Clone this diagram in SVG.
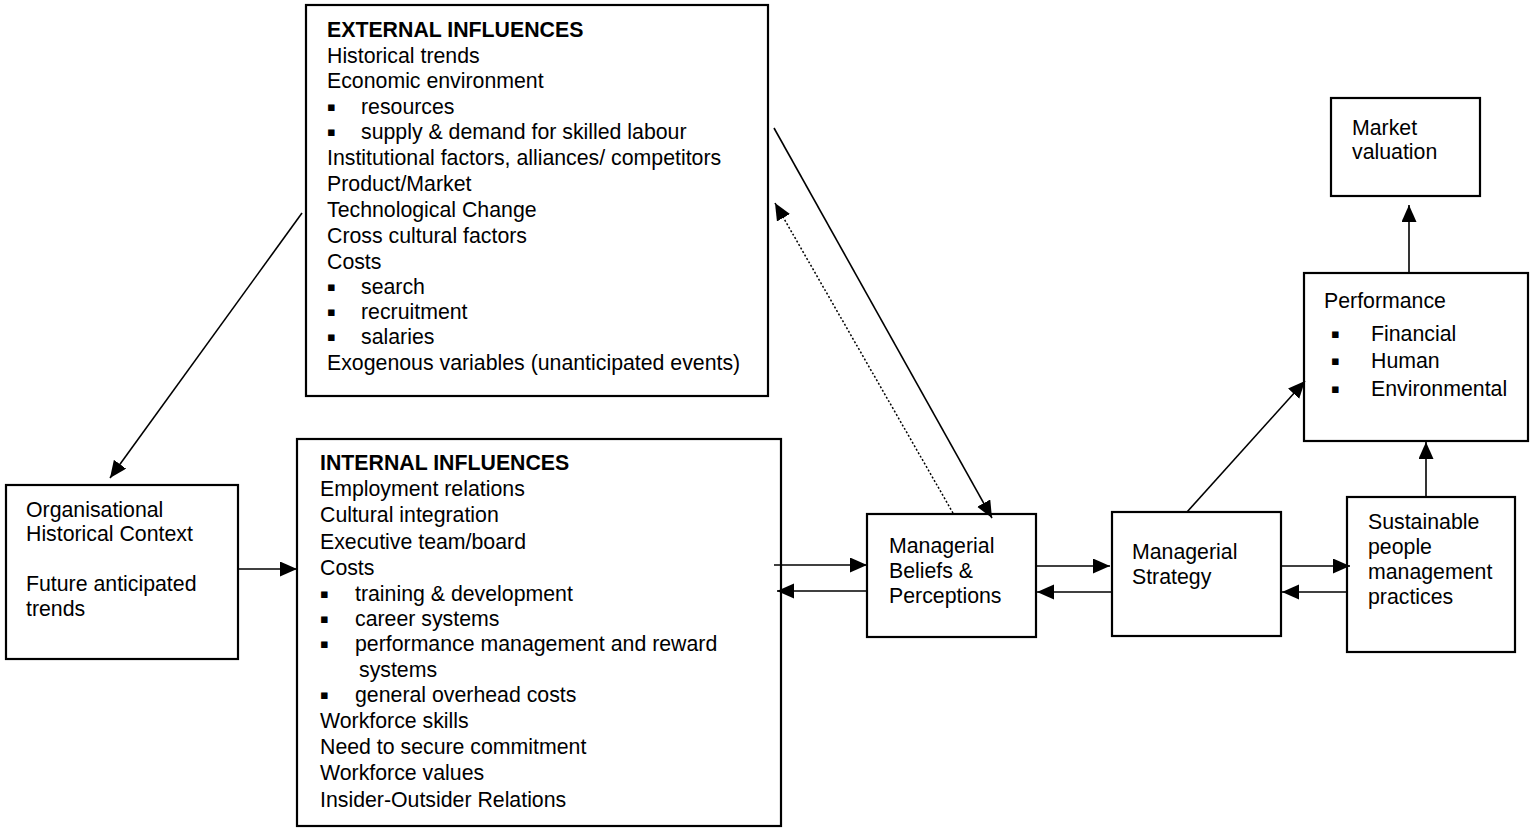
<svg xmlns="http://www.w3.org/2000/svg" width="1530" height="830" viewBox="0 0 1530 830">
<style>
.box{fill:#fff;stroke:#000;stroke-width:2.2}
.t{font-family:"Liberation Sans",Arial,sans-serif;font-size:21.3px;fill:#000}
.b{font-weight:bold}
.bul{font-family:"DejaVu Sans",sans-serif;font-size:13px;fill:#000}
.c{fill:none;stroke:#000;stroke-width:1.6}
.d{fill:none;stroke:#000;stroke-width:1.5;stroke-dasharray:2 2}
</style>
<defs>
<marker id="ah" markerUnits="userSpaceOnUse" markerWidth="18" markerHeight="16" refX="17" refY="7.5" orient="auto">
<path d="M0,0 L17,7.5 L0,15 z" fill="#000"/>
</marker>
</defs>
<rect width="1530" height="830" fill="#fff"/>

<g id="external">
<rect class="box" x="306" y="5" width="462" height="391"/>
<text class="t b" x="327" y="37">EXTERNAL INFLUENCES</text>
<text class="t" x="327" y="63">Historical trends</text>
<text class="t" x="327" y="88">Economic environment</text>
<text class="bul" x="327" y="111">▪</text><text class="t" x="361" y="114">resources</text>
<text class="bul" x="327" y="136">▪</text><text class="t" x="361" y="139">supply &amp; demand for skilled labour</text>
<text class="t" x="327" y="165">Institutional factors, alliances/ competitors</text>
<text class="t" x="327" y="191">Product/Market</text>
<text class="t" x="327" y="217">Technological Change</text>
<text class="t" x="327" y="243">Cross cultural factors</text>
<text class="t" x="327" y="269">Costs</text>
<text class="bul" x="327" y="291">▪</text><text class="t" x="361" y="294">search</text>
<text class="bul" x="327" y="316">▪</text><text class="t" x="361" y="319">recruitment</text>
<text class="bul" x="327" y="341">▪</text><text class="t" x="361" y="344">salaries</text>
<text class="t" x="327" y="370">Exogenous variables (unanticipated events)</text>
</g>

<g id="internal">
<rect class="box" x="297" y="439" width="484" height="387"/>
<text class="t b" x="320" y="470">INTERNAL INFLUENCES</text>
<text class="t" x="320" y="496">Employment relations</text>
<text class="t" x="320" y="522">Cultural integration</text>
<text class="t" x="320" y="549">Executive team/board</text>
<text class="t" x="320" y="575">Costs</text>
<text class="bul" x="320" y="598">▪</text><text class="t" x="355" y="601">training &amp; development</text>
<text class="bul" x="320" y="623">▪</text><text class="t" x="355" y="626">career systems</text>
<text class="bul" x="320" y="648">▪</text><text class="t" x="355" y="651">performance management and reward</text>
<text class="t" x="359" y="677">systems</text>
<text class="bul" x="320" y="699">▪</text><text class="t" x="355" y="702">general overhead costs</text>
<text class="t" x="320" y="728">Workforce skills</text>
<text class="t" x="320" y="754">Need to secure commitment</text>
<text class="t" x="320" y="780">Workforce values</text>
<text class="t" x="320" y="807">Insider-Outsider Relations</text>
</g>

<g id="org">
<rect class="box" x="6" y="485" width="232" height="174"/>
<text class="t" x="26" y="517">Organisational</text>
<text class="t" x="26" y="541">Historical Context</text>
<text class="t" x="26" y="591">Future anticipated</text>
<text class="t" x="26" y="616">trends</text>
</g>

<g id="beliefs">
<rect class="box" x="867" y="514" width="169" height="123"/>
<text class="t" x="889" y="553">Managerial</text>
<text class="t" x="889" y="578">Beliefs &amp;</text>
<text class="t" x="889" y="603">Perceptions</text>
</g>

<g id="strategy">
<rect class="box" x="1112" y="512" width="169" height="124"/>
<text class="t" x="1132" y="559">Managerial</text>
<text class="t" x="1132" y="584">Strategy</text>
</g>

<g id="sustainable">
<rect class="box" x="1347" y="497" width="168" height="155"/>
<text class="t" x="1368" y="529">Sustainable</text>
<text class="t" x="1368" y="554">people</text>
<text class="t" x="1368" y="579">management</text>
<text class="t" x="1368" y="604">practices</text>
</g>

<g id="performance">
<rect class="box" x="1304" y="273" width="224" height="168"/>
<text class="t" x="1324" y="308">Performance</text>
<text class="bul" x="1331" y="338">▪</text><text class="t" x="1371" y="341">Financial</text>
<text class="bul" x="1331" y="365">▪</text><text class="t" x="1371" y="368">Human</text>
<text class="bul" x="1331" y="393">▪</text><text class="t" x="1371" y="396">Environmental</text>
</g>

<g id="market">
<rect class="box" x="1331" y="98" width="149" height="98"/>
<text class="t" x="1352" y="135">Market</text>
<text class="t" x="1352" y="159">valuation</text>
</g>

<g id="connectors">
<line class="c" x1="302" y1="213" x2="110" y2="478" marker-end="url(#ah)"/>
<line class="c" x1="238" y1="569" x2="297" y2="569" marker-end="url(#ah)"/>
<line class="c" x1="774" y1="128" x2="992" y2="518" marker-end="url(#ah)"/>
<line class="d" x1="953" y1="513" x2="775" y2="203" marker-end="url(#ah)"/>
<line class="c" x1="774" y1="565" x2="867" y2="565" marker-end="url(#ah)"/>
<line class="c" x1="867" y1="591" x2="777" y2="591" marker-end="url(#ah)"/>
<line class="c" x1="1037" y1="566" x2="1110" y2="566" marker-end="url(#ah)"/>
<line class="c" x1="1112" y1="592" x2="1037" y2="592" marker-end="url(#ah)"/>
<line class="c" x1="1281" y1="566" x2="1350" y2="566" marker-end="url(#ah)"/>
<line class="c" x1="1347" y1="592" x2="1282" y2="592" marker-end="url(#ah)"/>
<line class="c" x1="1187" y1="512" x2="1305" y2="381" marker-end="url(#ah)"/>
<line class="c" x1="1426" y1="497" x2="1426" y2="442" marker-end="url(#ah)"/>
<line class="c" x1="1409" y1="272" x2="1409" y2="205" marker-end="url(#ah)"/>
</g>
</svg>
